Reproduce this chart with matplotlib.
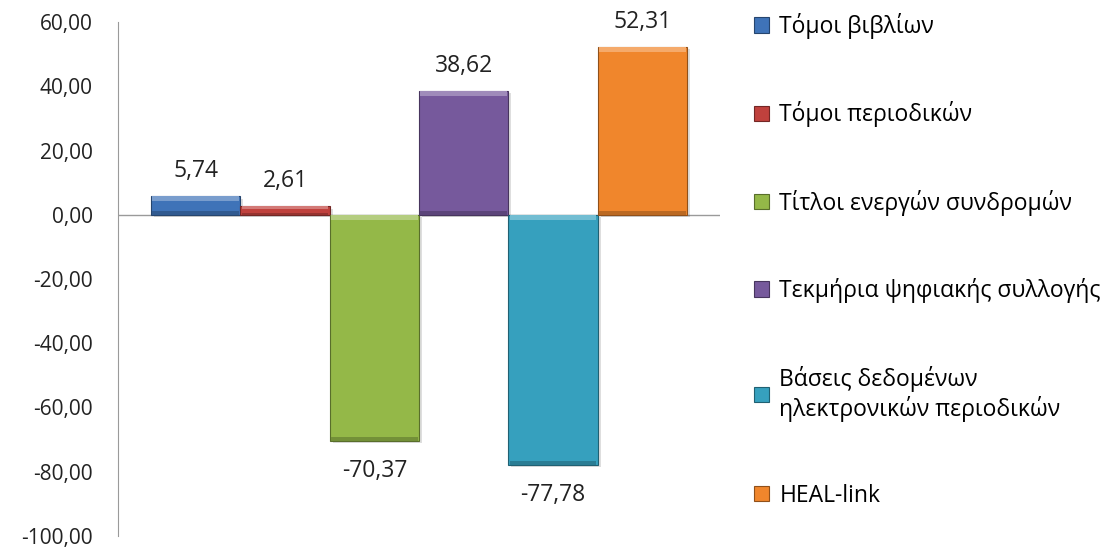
import matplotlib.pyplot as plt
import numpy as np
from matplotlib.colors import to_rgb
from matplotlib.ticker import FuncFormatter

plt.rcParams["font.family"] = ["Open Sans", "DejaVu Sans"]

# ---------------------------------------------------------------------------
# Data
# ---------------------------------------------------------------------------
series_labels = [
    "Τόμοι βιβλίων",
    "Τόμοι περιοδικών",
    "Τίτλοι ενεργών συνδρομών",
    "Τεκμήρια ψηφιακής συλλογής",
    "Βάσεις δεδομένων\nηλεκτρονικών περιοδικών",
    "HEAL-link",
]
values = [5.74, 2.61, -70.37, 38.62, -77.78, 52.31]
colors = ["#3f73b8", "#c0413d", "#94b848", "#76599c", "#36a0be", "#f0862c"]

y_ticks = [60, 40, 20, 0, -20, -40, -60, -80, -100]


def shade(c, f):
    r, g, b = to_rgb(c)
    if f < 1:
        return (r * f, g * f, b * f)
    return tuple(v + (1 - v) * (f - 1) for v in (r, g, b))


def comma(v, pos=None):
    return f"{v:.2f}".replace(".", ",")


fig = plt.figure(figsize=(11.11, 5.51), dpi=100)
ax = fig.add_axes([118 / 1111, 1 - 536 / 551, (720 - 118) / 1111, (536 - 22) / 551])

x = np.arange(len(values))
bars = ax.bar(x, values, width=1.0, color=colors, edgecolor=[shade(c, 0.6) for c in colors],
              linewidth=0.8, zorder=3)

# bevel: light band on top, dark band at the bottom, soft shadow behind
for xi, v, c in zip(x, values, colors):
    top, bot = max(v, 0), min(v, 0)
    h = abs(v)
    band_t = min(1.6, h * 0.3)
    band_b = min(1.2, h * 0.25)
    ax.bar(xi, -band_t, bottom=top, width=0.97, color=shade(c, 1.3), linewidth=0, zorder=4)
    ax.bar(xi, band_b, bottom=bot, width=0.97, color=shade(c, 0.78), linewidth=0, zorder=4)
    ax.bar(xi + 0.035, v, bottom=-0.8, width=1.0, color="#000000", alpha=0.13, linewidth=0, zorder=2)

for xi, v in zip(x, values):
    off = 18 if v >= 0 else -22
    ax.annotate(comma(v), (xi, v), xytext=(0, off), textcoords="offset points",
                ha="center", va="center", fontsize=16.5, color="#222222")

ax.set_xlim(-0.5 - 0.37, len(values) - 0.5 + 0.37)
ax.set_ylim(-100, 60)
ax.set_yticks(y_ticks)
ax.yaxis.set_major_formatter(FuncFormatter(comma))
ax.tick_params(axis="y", length=0, labelsize=15, pad=18, colors="#222222")
ax.set_xticks([])
ax.axhline(0, color="#9a9a9a", linewidth=1.0, zorder=1)

for s in ["top", "right", "bottom"]:
    ax.spines[s].set_visible(False)
ax.spines["left"].set_color("#9a9a9a")

fig.legend(bars, series_labels, loc="upper left", bbox_to_anchor=(745 / 1111, 1 - 4 / 551),
           frameon=False, fontsize=16.5, labelspacing=2.72, handlelength=0.65, handleheight=0.65,
           handletextpad=0.45, borderaxespad=0)

fig.savefig("out.png", dpi=100)
